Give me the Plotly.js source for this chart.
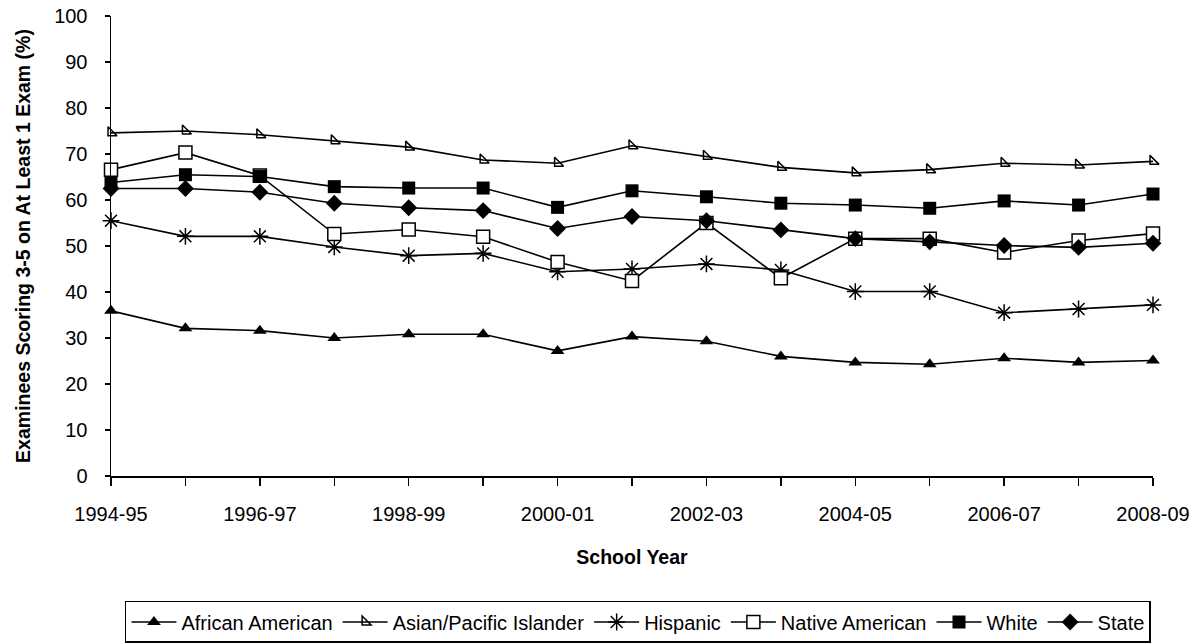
<!DOCTYPE html>
<html>
<head>
<meta charset="utf-8">
<script src="https://cdn.plot.ly/plotly-3.0.1.min.js"></script>
<style>html,body{margin:0;padding:0;background:#fff;}#chart{width:1194px;height:644px;}</style>
</head>
<body>
<div id="chart"></div>
<script>
const years = ["1994-95","1995-96","1996-97","1997-98","1998-99","1999-00","2000-01","2001-02","2002-03","2003-04","2004-05","2005-06","2006-07","2007-08","2008-09"];
const tickLabels = ["1994-95","","1996-97","","1998-99","","2000-01","","2002-03","","2004-05","","2006-07","","2008-09"];
const africanAmerican = [35.9,32.1,31.6,30.0,30.8,30.8,27.2,30.3,29.3,26.0,24.7,24.3,25.6,24.7,25.1];
const asianPacific   = [74.6,75.0,74.2,72.9,71.5,68.7,68.0,71.8,69.5,67.1,65.9,66.6,68.0,67.6,68.4];
const hispanic       = [55.5,52.1,52.1,49.8,47.9,48.4,44.4,45.0,46.1,44.8,40.1,40.1,35.5,36.3,37.2];
const nativeAmerican = [66.6,70.3,65.3,52.6,53.6,52.0,46.5,42.4,55.0,43.0,51.6,51.6,48.6,51.2,52.7];
const white          = [63.8,65.5,65.1,62.9,62.6,62.6,58.4,62.0,60.7,59.3,58.9,58.2,59.8,58.9,61.3];
const state          = [62.5,62.5,61.7,59.3,58.3,57.7,53.8,56.4,55.5,53.5,51.6,50.9,50.1,49.7,50.6];

const lineStyle = {color:'#000', width:1.6};
function tr(name, y, marker){
  return {type:'scatter', mode:'lines+markers', name:name, x:years, y:y,
          line:lineStyle, marker:marker, cliponaxis:false};
}
const data = [
  tr('African American', africanAmerican, {symbol:'triangle-up', size:12, color:'#000'}),
  tr('Asian/Pacific Islander', asianPacific, {symbol:'triangle-sw-open', size:10, color:'#000', line:{color:'#000', width:1.5}}),
  tr('Hispanic', hispanic, {symbol:'asterisk', size:14, color:'#000', line:{color:'#000', width:1.5}}),
  tr('Native American', nativeAmerican, {symbol:'square', size:13, color:'#fff', line:{color:'#000', width:1.5}}),
  tr('White', white, {symbol:'square', size:13, color:'#000'}),
  tr('State', state, {symbol:'diamond', size:13, color:'#000'})
];

const fontFam = '"Liberation Sans", Arial, sans-serif';
const layout = {
  width:1194, height:644,
  margin:{l:111, r:41, t:16, b:168},
  paper_bgcolor:'#fff', plot_bgcolor:'#fff',
  font:{family:fontFam, size:20, color:'#000'},
  showlegend:true,
  xaxis:{
    type:'category', categoryorder:'array', categoryarray:years,
    range:[0,14], tickmode:'array', tickvals:years, ticktext:tickLabels,
    ticks:'outside', ticklen:8, tickwidth:1.5, tickcolor:'#000',
    ticklabelstandoff:11,
    showline:true, linecolor:'#000', linewidth:1.5, showgrid:false, zeroline:false,
    tickfont:{family:fontFam, size:20, color:'#000'},
    title:{text:'<b>School Year</b>', font:{family:fontFam, size:19.5, color:'#000'}, standoff:27},
    automargin:false
  },
  yaxis:{
    range:[0,100], dtick:10, tick0:0,
    ticks:'outside', ticklen:5, tickwidth:1.5, tickcolor:'#000',
    ticklabelstandoff:13,
    showline:true, linecolor:'#000', linewidth:1.5, showgrid:false, zeroline:false,
    tickfont:{family:fontFam, size:20, color:'#000'},
    title:{text:'<b>Examinees Scoring 3-5 on At Least 1 Exam (%)</b>', font:{family:fontFam, size:19.5, color:'#000'}, standoff:18},
    automargin:false
  },
  legend:{
    orientation:'h', xref:'container', yref:'container',
    x:0.5343, xanchor:'center', y:0.0668, yanchor:'top',
    bordercolor:'#000', borderwidth:1.5, bgcolor:'#fff',
    font:{family:fontFam, size:20, color:'#000'},
    itemwidth:45, tracegroupgap:0
  }
};
Plotly.newPlot('chart', data, layout, {staticPlot:true, displayModeBar:false});
</script>
</body>
</html>
